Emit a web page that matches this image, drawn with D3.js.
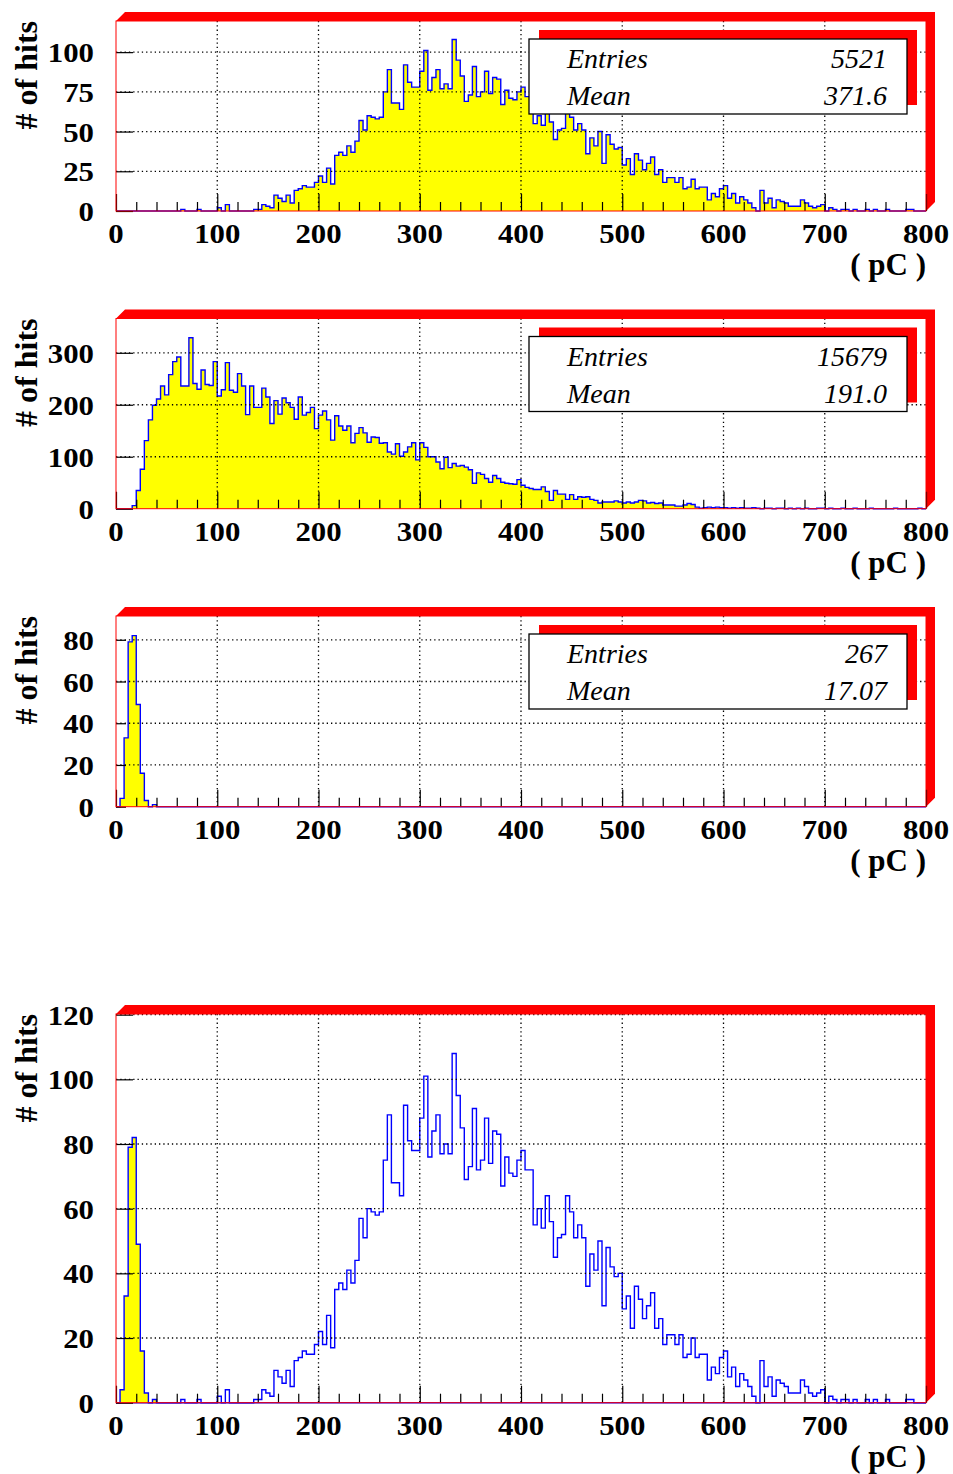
<!DOCTYPE html>
<html>
<head>
<meta charset="utf-8">
<script src="https://cdn.jsdelivr.net/npm/d3@7"></script>
<style>
  body { margin: 0; background: #ffffff; }
  svg { display: block; }
</style>
</head>
<body>
<div id="chart"></div>
<script>
// bins are 4 pC wide, 200 bins from 0 to 800 pC (one row = 20 bins = 80 pC)
const binWidth = 4;

const hitsHigh = [
    0, 0, 0, 0, 0, 0, 0, 0, 0, 0, 0, 0, 0, 0, 0, 0, 1, 0, 0, 0,
    1, 0, 0, 0, 0, 2, 0, 4, 0, 0, 0, 0, 0, 0, 1, 1, 4, 3, 2, 10,
    8, 6, 10, 5, 13, 14, 16, 15, 15, 18, 22, 18, 27, 17, 35, 37, 35, 41, 37, 44,
    57, 51, 60, 59, 58, 59, 75, 89, 68, 68, 64, 92, 81, 78, 78, 88, 101, 76, 84, 89,
    77, 80, 77, 108, 95, 85, 69, 73, 91, 72, 75, 88, 74, 84, 83, 67, 76, 71, 70, 75,
    78, 72, 72, 55, 60, 54, 64, 56, 45, 51, 52, 64, 59, 51, 55, 51, 36, 46, 41, 50,
    30, 48, 42, 39, 40, 29, 33, 23, 36, 32, 26, 30, 34, 23, 26, 18, 21, 21, 18, 21,
    14, 15, 20, 14, 15, 15, 7, 11, 9, 14, 16, 8, 11, 5, 9, 7, 5, 2, 0, 13,
    5, 8, 2, 7, 6, 5, 3, 3, 3, 7, 5, 3, 2, 3, 4, 0, 2, 1, 0, 1,
    1, 0, 1, 0, 0, 1, 0, 1, 0, 0, 1, 0, 0, 0, 0, 1, 1, 0, 0, 0
];

const hitsWide = [
    0, 0, 0, 0, 6, 35, 76, 131, 171, 199, 211, 236, 219, 258, 283, 292, 236, 236, 329, 241,
    230, 267, 239, 237, 283, 217, 229, 281, 228, 224, 260, 236, 181, 236, 195, 195, 232, 215, 164, 208,
    182, 213, 204, 195, 172, 215, 180, 185, 195, 154, 180, 188, 171, 132, 179, 159, 151, 159, 127, 145,
    156, 146, 128, 138, 137, 126, 127, 109, 105, 125, 101, 109, 119, 127, 94, 127, 118, 100, 100, 90,
    77, 99, 79, 87, 82, 83, 80, 75, 49, 69, 66, 58, 51, 64, 58, 51, 49, 48, 47, 56,
    45, 41, 39, 37, 37, 42, 33, 16, 35, 28, 28, 18, 27, 18, 23, 22, 23, 18, 16, 11,
    13, 13, 13, 15, 13, 11, 13, 11, 13, 16, 15, 11, 12, 10, 11, 7, 7, 7, 5, 5,
    7, 10, 8, 3, 1, 2, 3, 2, 3, 2, 2, 1, 2, 1, 2, 1, 1, 2, 1, 0,
    1, 1, 0, 1, 1, 0, 1, 0, 1, 0, 1, 0, 0, 1, 1, 0, 1, 0, 0, 1,
    0, 0, 1, 0, 0, 0, 1, 0, 0, 0, 0, 0, 1, 0, 0, 0, 0, 0, 1, 0
];

const hitsLow = [
    0, 4, 33, 79, 82, 49, 16, 3, 0, 1, 0, 0, 0, 0, 0, 0, 0, 0, 0, 0,
    0, 0, 0, 0, 0, 0, 0, 0, 0, 0, 0, 0, 0, 0, 0, 0, 0, 0, 0, 0,
    0, 0, 0, 0, 0, 0, 0, 0, 0, 0, 0, 0, 0, 0, 0, 0, 0, 0, 0, 0,
    0, 0, 0, 0, 0, 0, 0, 0, 0, 0, 0, 0, 0, 0, 0, 0, 0, 0, 0, 0,
    0, 0, 0, 0, 0, 0, 0, 0, 0, 0, 0, 0, 0, 0, 0, 0, 0, 0, 0, 0,
    0, 0, 0, 0, 0, 0, 0, 0, 0, 0, 0, 0, 0, 0, 0, 0, 0, 0, 0, 0,
    0, 0, 0, 0, 0, 0, 0, 0, 0, 0, 0, 0, 0, 0, 0, 0, 0, 0, 0, 0,
    0, 0, 0, 0, 0, 0, 0, 0, 0, 0, 0, 0, 0, 0, 0, 0, 0, 0, 0, 0,
    0, 0, 0, 0, 0, 0, 0, 0, 0, 0, 0, 0, 0, 0, 0, 0, 0, 0, 0, 0,
    0, 0, 0, 0, 0, 0, 0, 0, 0, 0, 0, 0, 0, 0, 0, 0, 0, 0, 0, 0
];

const xMajorTicks = [0, 100, 200, 300, 400, 500, 600, 700, 800];
const yTicksHigh = [0, 25, 50, 75, 100];
const yTicksWide = [0, 100, 200, 300];
const yTicksLow = [0, 20, 40, 60, 80];
const yTicksAll = [0, 20, 40, 60, 80, 100, 120];

const statLabels = ["Entries", "Mean"];
const statsHigh = ["5521", "371.6"];
const statsWide = ["15679", "191.0"];
const statsLow = ["267", "17.07"];

const xTitle = "( pC )";
const yTitle = "# of hits";

const width = 953;
const height = 1474;
const frameLeft = 116;
const frameRight = 926;
const depth = 9;
const serif = "'Liberation Serif', 'Times New Roman', serif";

const panels = [
    { top: 21, bottom: 211, yMax: 119.6, yTicks: yTicksHigh, yTickLen: 17,
      series: [{ values: hitsHigh, fill: "#ffff00" }], stats: statsHigh },
    { top: 318.5, bottom: 508.7, yMax: 366, yTicks: yTicksWide, yTickLen: 17,
      series: [{ values: hitsWide, fill: "#ffff00" }], stats: statsWide },
    { top: 616, bottom: 806.7, yMax: 91.4, yTicks: yTicksLow, yTickLen: 10,
      series: [{ values: hitsLow, fill: "#ffff00" }], stats: statsLow },
    { top: 1014, bottom: 1402.7, yMax: 120.2, yTicks: yTicksAll, yTickLen: 17,
      series: [{ values: hitsHigh, fill: "none" }, { values: hitsLow, fill: "#ffff00" }], stats: null }
];

const svg = d3.select("#chart")
    .append("svg")
    .attr("width", width)
    .attr("height", height)
    .attr("viewBox", [0, 0, width, height]);

const x = d3.scaleLinear()
    .domain([0, 800])
    .range([frameLeft, frameRight]);

const minorTicks = d3.range(0, 801, 20).filter(v => v % 100 != 0);

drawPanel = (p) => {
    const y = d3.scaleLinear()
        .domain([0, p.yMax])
        .range([p.bottom, p.top]);

    const g = svg.append("g");

    /** 3D frame border, top and right */
    const band = [
        [frameLeft, p.top], [frameLeft + depth, p.top - depth],
        [frameRight + depth, p.top - depth], [frameRight + depth, p.bottom - depth],
        [frameRight, p.bottom], [frameRight, p.top]
    ];
    g.append("polygon")
        .attr("points", band.map(d => d.join(",")).join(" "))
        .attr("fill", "#ff0000");

    g.append("rect")
        .attr("x", frameLeft)
        .attr("y", p.top)
        .attr("width", frameRight - frameLeft)
        .attr("height", p.bottom - p.top)
        .attr("fill", "#ffffff");

    /** histograms as steps */
    p.series.forEach(s => {
        const pts = s.values.map((v, i) => [i * binWidth, v]);
        pts.push([800, s.values[s.values.length - 1]]);

        if (s.fill != "none") {
            g.append("path")
                .attr("d", d3.area()
                    .curve(d3.curveStepAfter)
                    .x(d => x(d[0]))
                    .y0(y(0))
                    .y1(d => y(d[1]))(pts))
                .attr("fill", s.fill);
        }

        const outline = [[0, 0], ...pts, [800, 0]];
        g.append("path")
            .attr("d", d3.line()
                .curve(d3.curveStepAfter)
                .x(d => x(d[0]))
                .y(d => y(d[1]))(outline))
            .attr("fill", "none")
            .attr("stroke", "#0000ff")
            .attr("stroke-width", 1.4);
    });

    /** dotted grid */
    g.append("g")
        .selectAll("line")
        .data(xMajorTicks.filter(v => v > 0 && v < 800))
        .join("line")
        .attr("x1", d => x(d)).attr("x2", d => x(d))
        .attr("y1", p.top).attr("y2", p.bottom)
        .attr("stroke", "#000").attr("stroke-width", 1.3)
        .attr("stroke-dasharray", "1.3,3");
    g.append("g")
        .selectAll("line")
        .data(p.yTicks.filter(v => v > 0))
        .join("line")
        .attr("x1", frameLeft).attr("x2", frameRight)
        .attr("y1", d => y(d)).attr("y2", d => y(d))
        .attr("stroke", "#000").attr("stroke-width", 1.3)
        .attr("stroke-dasharray", "1.3,3");

    /** ticks */
    const gx = g.append("g").attr("transform", `translate(0,${p.bottom})`);
    gx.append("g")
        .call(d3.axisBottom(x).tickValues(xMajorTicks).tickSize(-17).tickFormat(""))
        .call(a => a.select(".domain").remove());
    gx.append("g")
        .call(d3.axisBottom(x).tickValues(minorTicks).tickSize(-9).tickFormat(""))
        .call(a => a.select(".domain").remove());
    gx.selectAll(".tick line").attr("stroke", "#000").attr("stroke-width", 1.2);

    const gy = g.append("g").attr("transform", `translate(${frameLeft},0)`);
    gy.call(d3.axisLeft(y).tickValues(p.yTicks).tickSize(-p.yTickLen).tickFormat(""))
        .call(a => a.select(".domain").remove());
    gy.selectAll(".tick line").attr("stroke", "#000").attr("stroke-width", 1.2);

    /** frame outline */
    g.append("rect")
        .attr("x", frameLeft)
        .attr("y", p.top)
        .attr("width", frameRight - frameLeft)
        .attr("height", p.bottom - p.top)
        .attr("fill", "none")
        .attr("stroke", "#ff0000")
        .attr("stroke-width", 1);

    /** tick labels */
    g.append("g")
        .selectAll("text")
        .data(xMajorTicks)
        .join("text")
        .attr("transform", d => `translate(${x(d)},${p.bottom + 32}) scale(1.1,1)`)
        .attr("text-anchor", "middle")
        .attr("font-family", serif)
        .attr("font-weight", "bold")
        .attr("font-size", 28)
        .text(d => d);
    g.append("g")
        .selectAll("text")
        .data(p.yTicks)
        .join("text")
        .attr("transform", d => `translate(94,${y(d) + 10}) scale(1.1,1)`)
        .attr("text-anchor", "end")
        .attr("font-family", serif)
        .attr("font-weight", "bold")
        .attr("font-size", 28)
        .text(d => d);

    /** axis titles */
    g.append("text")
        .attr("x", frameRight)
        .attr("y", p.bottom + 64)
        .attr("text-anchor", "end")
        .attr("font-family", serif)
        .attr("font-weight", "bold")
        .attr("font-size", 31)
        .text(xTitle);
    g.append("text")
        .attr("transform", `translate(37,${p.top}) rotate(-90)`)
        .attr("text-anchor", "end")
        .attr("font-family", serif)
        .attr("font-weight", "bold")
        .attr("font-size", 32)
        .text(yTitle);

    /** stats box */
    if (p.stats) {
        const bx = 529, by = p.top + 18, bw = 378, bh = 75;
        g.append("rect")
            .attr("x", bx + 10).attr("y", by - 9)
            .attr("width", bw).attr("height", bh)
            .attr("fill", "#ff0000");
        g.append("rect")
            .attr("x", bx).attr("y", by)
            .attr("width", bw).attr("height", bh)
            .attr("fill", "#ffffff")
            .attr("stroke", "#000")
            .attr("stroke-width", 1.3);
        const rows = g.append("g")
            .selectAll("g")
            .data(statLabels.map((l, i) => ({ label: l, value: p.stats[i] })))
            .join("g")
            .attr("transform", (_, i) => `translate(0,${by + 29 + i * 37})`)
            .attr("font-family", serif)
            .attr("font-style", "italic")
            .attr("font-size", 28);
        rows.append("text")
            .attr("x", 567)
            .text(d => d.label);
        rows.append("text")
            .attr("x", 887)
            .attr("text-anchor", "end")
            .text(d => d.value);
    }
};

panels.forEach(p => drawPanel(p));
</script>
</body>
</html>
